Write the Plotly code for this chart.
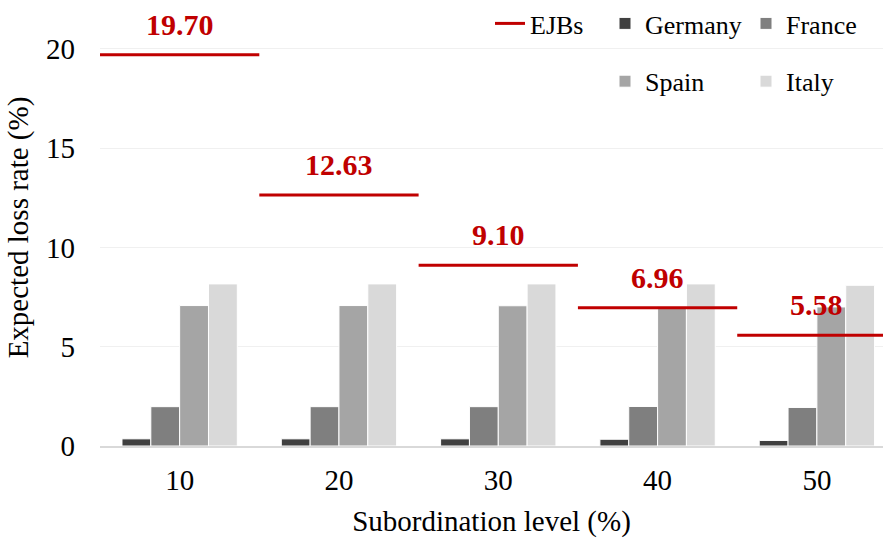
import plotly.graph_objects as go

categories = ["10", "20", "30", "40", "50"]
germany = [0.36, 0.36, 0.36, 0.34, 0.28]
france = [1.98, 1.98, 1.98, 1.99, 1.94]
spain = [7.07, 7.07, 7.06, 7.03, 7.00]
italy = [8.16, 8.16, 8.16, 8.16, 8.09]
ejbs = [19.70, 12.63, 9.10, 6.96, 5.58]
ejb_labels = ["19.70", "12.63", "9.10", "6.96", "5.58"]

FONT = "Liberation Serif, Times New Roman, serif"
RED = "#c00000"
xs = list(range(len(categories)))

fig = go.Figure()

series = [
    ("Germany", germany, "#404040", "legend2"),
    ("France", france, "#7f7f7f", "legend3"),
    ("Spain", spain, "#a5a5a5", "legend2"),
    ("Italy", italy, "#d9d9d9", "legend3"),
]
for name, vals, col, lg in series:
    fig.add_trace(go.Bar(
        x=xs, y=vals, name=name, legend=lg, legendgroup=name,
        marker=dict(color=col, line=dict(color="white", width=1)),
    ))

# EJB horizontal segments spanning each category
lx, ly = [], []
for i, v in enumerate(ejbs):
    lx += [i - 0.5, i + 0.5, None]
    ly += [v, v, None]
fig.add_trace(go.Scatter(
    x=lx, y=ly, mode="lines", name="EJBs", legend="legend",
    line=dict(color=RED, width=3),
))

for i, (v, t) in enumerate(zip(ejbs, ejb_labels)):
    fig.add_annotation(
        x=i, y=v, text="<b>%s</b>" % t, showarrow=False,
        xanchor="center", yanchor="bottom", yshift=12,
        font=dict(family=FONT, size=30, color=RED),
    )

LEG_Y = 1.021
fig.update_layout(
    width=883, height=541,
    margin=dict(l=100, r=0, t=4, b=95),
    paper_bgcolor="white", plot_bgcolor="white",
    barmode="group", bargap=0.276, bargroupgap=0,
    font=dict(family=FONT, size=26, color="black"),
    legend=dict(
        x=(490 - 100) / 783, xanchor="left", y=LEG_Y, yanchor="top",
        orientation="v", bgcolor="rgba(0,0,0,0)",
        font=dict(family=FONT, size=26, color="black"),
    ),
    legend2=dict(
        x=(605 - 100) / 783, xanchor="left", y=LEG_Y, yanchor="top",
        orientation="v", bgcolor="rgba(0,0,0,0)", traceorder="grouped",
        tracegroupgap=21,
        font=dict(family=FONT, size=26, color="black"),
    ),
    legend3=dict(
        x=(746 - 100) / 783, xanchor="left", y=LEG_Y, yanchor="top",
        orientation="v", bgcolor="rgba(0,0,0,0)", traceorder="grouped",
        tracegroupgap=21,
        font=dict(family=FONT, size=26, color="black"),
    ),
    xaxis=dict(
        range=[-0.5, 4.415], tickmode="array", tickvals=xs, ticktext=categories,
        showgrid=False, zeroline=False, showline=True, linecolor="#d9d9d9",
        linewidth=2, ticks="", ticklabelstandoff=7,
        tickfont=dict(family=FONT, size=29),
        title=dict(text="Subordination level (%)", standoff=16,
                   font=dict(family=FONT, size=29)),
        fixedrange=True,
    ),
    yaxis=dict(
        range=[0, 22], tickvals=[0, 5, 10, 15, 20], showgrid=True,
        gridcolor="#f0f0f0", gridwidth=1, zeroline=False, showline=False,
        ticks="", ticklabelstandoff=24,
        tickfont=dict(family=FONT, size=29),
        title=dict(text="Expected loss rate (%)", standoff=8,
                   font=dict(family=FONT, size=29)),
        fixedrange=True,
    ),
    showlegend=True,
)

fig.write_html(
    "out.html",
    config={"displayModeBar": False},
    post_script="document.body.style.margin='0';document.body.style.overflow='hidden';",
)
